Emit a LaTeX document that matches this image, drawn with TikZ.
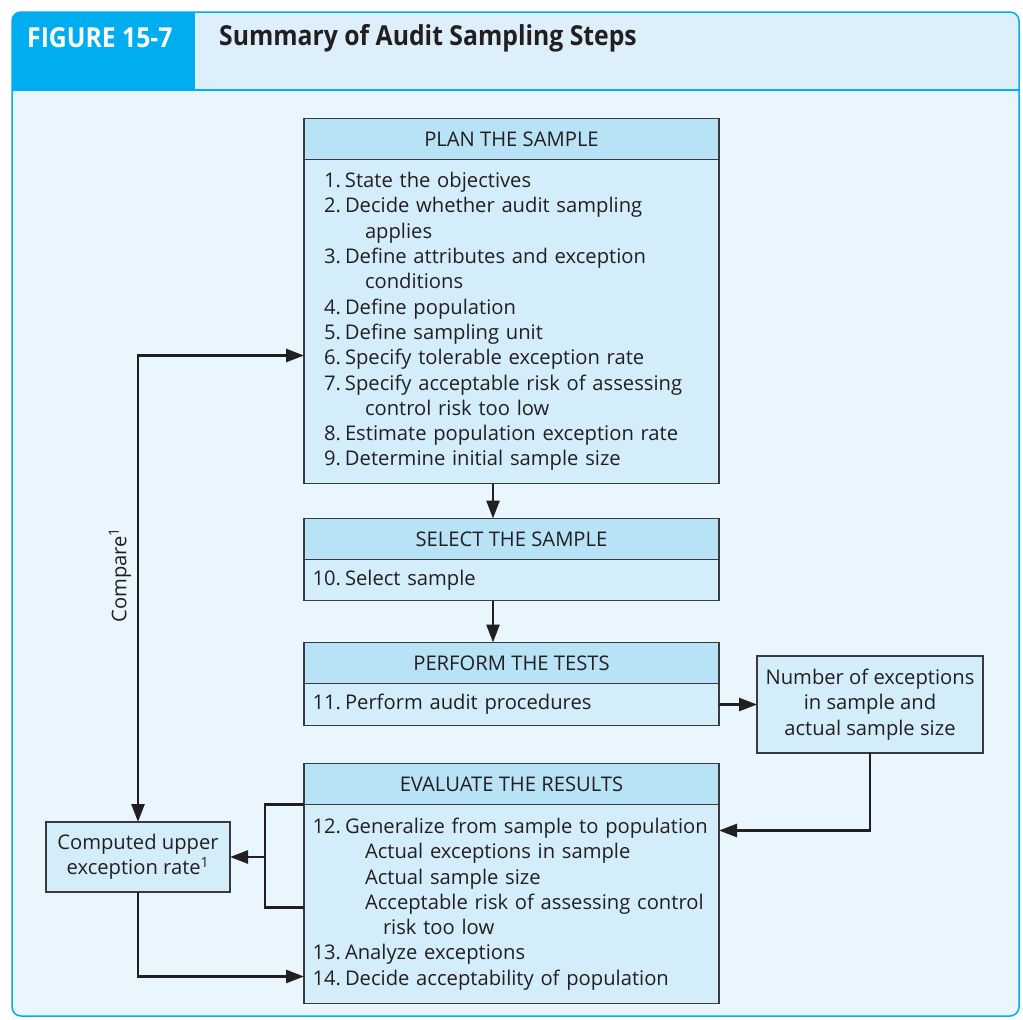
\documentclass[tikz,border=0pt]{standalone}
\usepackage{fontspec}
\setmainfont{Open Sans}
\newfontfamily\titlefont[FakeStretch=0.9]{Open Sans}
\usetikzlibrary{arrows.meta,positioning,calc}

\definecolor{figcyan}{HTML}{00AEEF}
\definecolor{titlebg}{HTML}{DDEFFB}
\definecolor{pagebg}{HTML}{EAF6FD}
\definecolor{headblue}{HTML}{B8E2F6}
\definecolor{bodyblue}{HTML}{D4EDFA}
\definecolor{boxline}{HTML}{3A3A3C}
\definecolor{ink}{HTML}{231F20}

\newcommand{\bodyfont}{\fontsize{20.2}{25.3}\selectfont}
\newcommand{\stepnum}[2]{\makebox[29pt][r]{#1.}\hspace{4pt}#2}
\newcommand{\contline}[2][53pt]{\hspace*{#1}#2}

\begin{document}
\begin{tikzpicture}[
  x=1pt, y=-1pt,
  every node/.style={font=\bodyfont, text=ink},
  head/.style={draw=boxline, line width=1.3pt, fill=headblue, minimum width=415pt, minimum height=41pt, inner sep=0pt, outer sep=0pt},
  body/.style={draw=boxline, line width=1.3pt, fill=bodyblue, text width=399pt, inner xsep=8pt, inner ysep=0pt, outer sep=0pt, align=left},
  sidebox/.style={draw=boxline, line width=1.3pt, fill=bodyblue, align=center, inner sep=0pt, outer sep=0pt},
  conn/.style={line width=2.6pt, draw=ink},
  arrow/.style={conn, -{Triangle[length=18pt, width=13pt]}}
]
\useasboundingbox (0,0) rectangle (1023,1020);

% frame and title bar
\begin{scope}
  \clip[rounded corners=9pt] (12,12) rectangle (1019,1016);
  \fill[pagebg] (12,12) rectangle (1019,1016);
  \fill[titlebg] (195,12) rectangle (1019,90);
  \fill[figcyan] (12,12) rectangle (195,90);
\end{scope}
\draw[figcyan, line width=1.5pt, rounded corners=9pt] (12,12) rectangle (1019,1016);
\draw[figcyan, line width=1.5pt] (12,90) -- (1019,90);
\node[anchor=west, inner sep=0pt, text=white, font=\titlefont\bfseries\fontsize{27.5}{30}\selectfont] (fignum) at (27,38) {FIGURE 15-7};
\node[anchor=west, inner sep=0pt, font=\titlefont\bfseries\fontsize{27.5}{30}\selectfont] (figtitle) at (219,38) {Summary of Audit Sampling Steps};

% the four stages
\node[head] (planhead) at (511.5,139) {PLAN THE SAMPLE};
\node[body, minimum height=324pt, below=0pt of planhead] (planbody) {%
  \stepnum{1}{State the objectives}\\
  \stepnum{2}{Decide whether audit sampling}\\
  \contline{applies}\\
  \stepnum{3}{Define attributes and exception}\\
  \contline{conditions}\\
  \stepnum{4}{Define population}\\
  \stepnum{5}{Define sampling unit}\\
  \stepnum{6}{Specify tolerable exception rate}\\
  \stepnum{7}{Specify acceptable risk of assessing}\\
  \contline{control risk too low}\\
  \stepnum{8}{Estimate population exception rate}\\
  \stepnum{9}{Determine initial sample size}};
\node[head, below=35pt of planbody] (selhead) {SELECT THE SAMPLE};
\node[body, minimum height=41pt, below=0pt of selhead] (selbody) {\stepnum{10}{Select sample}};
\node[head, below=42pt of selbody] (perfhead) {PERFORM THE TESTS};
\node[body, minimum height=42pt, below=0pt of perfhead] (perfbody) {\stepnum{11}{Perform audit procedures}};
\node[head, below=38pt of perfbody] (evalhead) {EVALUATE THE RESULTS};
\node[body, minimum height=199pt, below=0pt of evalhead] (evalbody) {%
  \stepnum{12}{Generalize from sample to population}\\
  \contline{Actual exceptions in sample}\\
  \contline{Actual sample size}\\
  \contline{Acceptable risk of assessing control}\\
  \contline[71pt]{risk too low}\\
  \stepnum{13}{Analyze exceptions}\\
  \stepnum{14}{Decide acceptability of population}};

% side boxes
\node[sidebox, minimum width=226pt, minimum height=97pt, right=38pt of perfbody] (excount) {Number of exceptions\\in sample and\\actual sample size};
\node[sidebox, minimum width=184pt, minimum height=70pt] (upperrate) at (138,857) {Computed upper\\exception rate\textsuperscript{1}};
\node[rotate=90] (cmp) at (120,575) {Compare\textsuperscript{1}};

% connectors
\coordinate (spine) at (493,0);
\draw[arrow] (planbody.south -| spine) -- (selhead.north -| spine);
\draw[arrow] (selbody.south -| spine) -- (perfhead.north -| spine);
\draw[arrow] (perfbody.east) -- (excount.west);
\draw[arrow] (excount.south) |- ($(evalbody.north east)+(0,26)$);
\draw[conn] (evalbody.north west) -- ++(-39,0) coordinate (brktop) -- ++(0,103) -- ++(39,0);
\draw[arrow] (brktop |- upperrate.east) -- (upperrate.east);
\draw[arrow] (upperrate.south) |- ($(evalbody.south west)+(0,-27)$);
\draw[conn, {Triangle[length=18pt, width=13pt]}-{Triangle[length=18pt, width=13pt]}] ($(planbody.north west)+(0,196)$) -| (upperrate.north);
\end{tikzpicture}
\end{document}
